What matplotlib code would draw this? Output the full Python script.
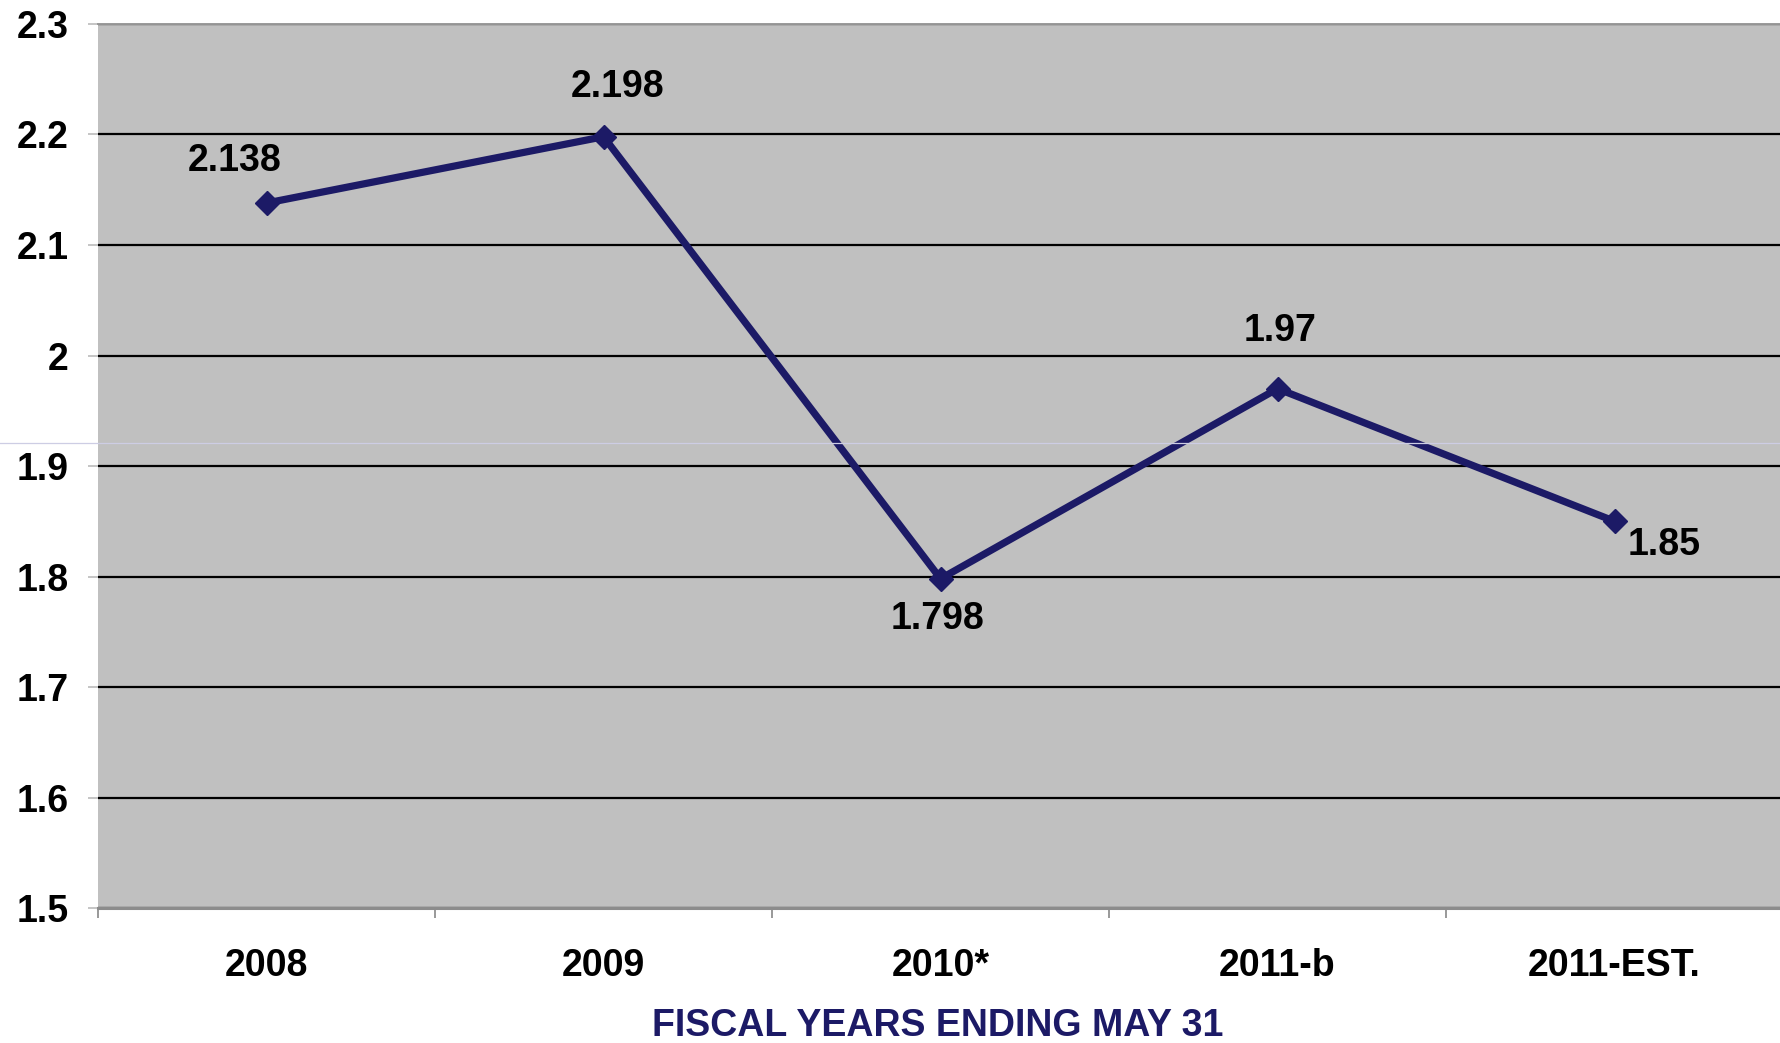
import matplotlib.pyplot as plt
from matplotlib.lines import Line2D
from matplotlib.ticker import FixedLocator

years = ["2008", "2009", "2010*", "2011-b", "2011-EST."]
values = [2.138, 2.198, 1.798, 1.97, 1.85]
label_text = ["2.138", "2.198", "1.798", "1.97", "1.85"]
# where each value label sits relative to its marker (pixels)
label_offsets = [(-32, 42), (14, 50), (-3, -40), (3, 58), (50, -24)]
y_ticks = [1.5, 1.6, 1.7, 1.8, 1.9, 2.0, 2.1, 2.2, 2.3]
y_tick_text = ["1.5", "1.6", "1.7", "1.8", "1.9", "2", "2.1", "2.2", "2.3"]

NAVY = "#1c1a66"
BG = "#c0c0c0"

plt.rcParams["font.family"] = ["Liberation Sans", "DejaVu Sans"]
plt.rcParams["font.weight"] = "bold"

fig = plt.figure(figsize=(17.8, 10.43), dpi=100)
ax = fig.add_axes([0.0551, 0.1294, 0.9466, 0.8476])
ax.set_facecolor(BG)

x = list(range(len(years)))
ax.plot(x, values, color=NAVY, lw=5.2, marker="D", markersize=12,
        markerfacecolor=NAVY, markeredgecolor=NAVY, zorder=4, clip_on=False)

for xi, v, txt, (dx, dy) in zip(x, values, label_text, label_offsets):
    ax.annotate(txt, (xi, v), xytext=(dx, dy), textcoords="offset pixels",
                ha="center", va="center", fontsize=27, fontweight="bold",
                color="black", zorder=5)

ax.set_xlim(-0.5, len(years) - 0.5)
ax.set_ylim(1.5, 2.3)
ax.set_yticks(y_ticks)
ax.set_yticklabels(y_tick_text)
ax.grid(axis="y", color="black", lw=1.6, zorder=1)
ax.set_axisbelow(True)

ax.set_xticks(x)
ax.set_xticklabels(years)
ax.xaxis.set_minor_locator(FixedLocator([i - 0.5 for i in range(len(years) + 1)]))
ax.tick_params(axis="x", which="major", length=0, pad=29, labelsize=27)
ax.tick_params(axis="x", which="minor", length=7, width=1.2, color="#888888")
ax.tick_params(axis="y", length=7, width=1.2, color="#bbbbbb", pad=14, labelsize=27)

for side in ("left", "right"):
    ax.spines[side].set_visible(False)
ax.spines["bottom"].set_color("#8c8c8c")
ax.spines["bottom"].set_linewidth(2.2)
ax.spines["bottom"].set_zorder(3)
ax.spines["top"].set_color("#999999")
ax.spines["top"].set_linewidth(1.4)

fig.text(0.527, 0.0165, "FISCAL YEARS ENDING MAY 31", ha="center", va="center",
         fontsize=27, fontweight="bold", color=NAVY)

# thin scan seam running across the sheet
fig.add_artist(Line2D([0, 1], [1 - 443 / 1043] * 2, transform=fig.transFigure,
                      color="#cdcde4", lw=0.9, zorder=10))

fig.savefig("out.png", dpi=100)
